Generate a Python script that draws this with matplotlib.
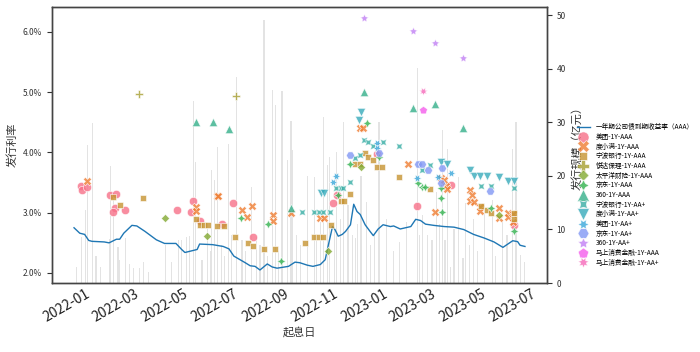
import matplotlib
matplotlib.use('Agg')
import matplotlib.pyplot as plt
import matplotlib.dates as mdates
from matplotlib.lines import Line2D
from matplotlib.ticker import FuncFormatter, MultipleLocator
import pandas as pd
import seaborn as sns

plt.rcParams['font.family'] = ['Noto Sans CJK SC', 'DejaVu Sans']
plt.rcParams['axes.unicode_minus'] = False

# ---------------- data ----------------
curve_label = '一年期公司债到期收益率（AAA）'
curve_dates = ['2021-12-09', '2021-12-16', '2021-12-22', '2021-12-27', '2021-12-31', '2022-01-15',
               '2022-01-21', '2022-01-30', '2022-02-03', '2022-02-08', '2022-02-18', '2022-02-24',
               '2022-03-06', '2022-03-14', '2022-03-20', '2022-03-30', '2022-04-13', '2022-04-20',
               '2022-04-24', '2022-05-09', '2022-05-12', '2022-05-28', '2022-06-10', '2022-06-17',
               '2022-06-23', '2022-07-07', '2022-07-13', '2022-07-19', '2022-07-25', '2022-08-03',
               '2022-08-09', '2022-08-15', '2022-08-29', '2022-09-06', '2022-09-12', '2022-09-21',
               '2022-09-28', '2022-10-07', '2022-10-13', '2022-10-17', '2022-10-22', '2022-10-25',
               '2022-10-29', '2022-11-03', '2022-11-07', '2022-11-13', '2022-11-17', '2022-11-21',
               '2022-11-25', '2022-12-01', '2022-12-07', '2022-12-11', '2022-12-17', '2022-12-23',
               '2023-01-01', '2023-01-05', '2023-01-13', '2023-01-26', '2023-02-01', '2023-02-07',
               '2023-02-13', '2023-02-23', '2023-03-08', '2023-03-20', '2023-04-01', '2023-04-13',
               '2023-04-26', '2023-05-08', '2023-05-19', '2023-05-25', '2023-05-31', '2023-06-06',
               '2023-06-09', '2023-06-15']
curve_values = [2.75, 2.66, 2.64, 2.54, 2.525, 2.515,
                2.50, 2.56, 2.56, 2.66, 2.79, 2.78,
                2.69, 2.61, 2.55, 2.49, 2.49, 2.39,
                2.34, 2.39, 2.48, 2.47, 2.44, 2.40,
                2.28, 2.17, 2.12, 2.11, 2.05, 2.15,
                2.10, 2.08, 2.11, 2.18, 2.17, 2.13,
                2.11, 2.14, 2.22, 2.47, 2.77, 2.72,
                2.61, 2.64, 2.69, 2.80, 3.14, 3.02,
                2.97, 2.80, 2.69, 2.62, 2.73, 2.80,
                2.77, 2.78, 2.73, 2.77, 2.89, 2.87,
                2.81, 2.79, 2.77, 2.76, 2.72, 2.64,
                2.58, 2.515, 2.425, 2.48, 2.535, 2.52,
                2.46, 2.44]

bar_dates = ['2021-12-18', '2021-12-23', '2021-12-25', '2022-01-01', '2022-01-21', '2022-01-23',
             '2022-01-26', '2022-02-01', '2022-02-03', '2022-02-10', '2022-02-20', '2022-02-27',
             '2022-03-04', '2022-03-31', '2022-04-16', '2022-04-20', '2022-04-26', '2022-04-30',
             '2022-05-05', '2022-05-07', '2022-05-15', '2022-05-22', '2022-05-27', '2022-05-30',
             '2022-06-03', '2022-06-08', '2022-06-16', '2022-06-26', '2022-07-03', '2022-07-15',
             '2022-07-21', '2022-07-30', '2022-08-09', '2022-08-13', '2022-08-21', '2022-08-28',
             '2022-09-01', '2022-09-03', '2022-09-21', '2022-09-30', '2022-10-07', '2022-10-11',
             '2022-10-16', '2022-10-18', '2022-10-27', '2022-11-04', '2022-11-10', '2022-11-19',
             '2022-11-26', '2022-12-03', '2022-12-18', '2022-12-27', '2023-01-12', '2023-01-21',
             '2023-02-03', '2023-02-09', '2023-02-15', '2023-02-27', '2023-03-06', '2023-03-12',
             '2023-03-16', '2023-03-20', '2023-03-26', '2023-03-31', '2023-04-03', '2023-04-13',
             '2023-04-26', '2023-05-06', '2023-05-18', '2023-05-31', '2023-06-04', '2023-06-10',
             '2021-12-12', '2022-01-05', '2022-01-10', '2022-02-15', '2022-03-10', '2022-04-08',
             '2022-05-25', '2022-06-12', '2022-06-20', '2022-07-07', '2022-07-25', '2022-08-03',
             '2022-08-17', '2022-09-08', '2022-09-13', '2022-10-02', '2022-10-24', '2022-11-01',
             '2022-11-15', '2022-11-22', '2022-12-08', '2022-12-13', '2023-01-05', '2023-02-06',
             '2023-02-21', '2023-03-02', '2023-03-09', '2023-04-08', '2023-04-18', '2023-05-10',
             '2023-05-24', '2023-06-14']
bar_sizes = [8.6, 13.6, 25.7, 29.8, 8.3, 21.8,
             16.0, 6.8, 4.3, 8.4, 2.8, 2.8,
             4.0, 7.1, 8.0, 8.0, 8.6, 8.7,
             34.0, 22.6, 4.3, 11.0, 21.0, 19.2,
             25.4, 7.0, 26.0, 38.5, 8.0, 18.0,
             8.6, 49.0, 36.0, 33.3, 35.8, 23.0,
             30.2, 24.8, 20.0, 19.8, 11.4, 31.0,
             22.0, 23.6, 24.5, 30.0, 14.5, 8.4,
             20.0, 15.2, 30.0, 12.0, 7.7, 11.4,
             40.2, 12.7, 9.0, 17.0, 28.5, 25.0,
             3.0, 10.0, 19.8, 4.7, 15.0, 12.0,
             14.5, 15.5, 12.0, 25.0, 30.0, 5.2,
             3.0, 5.0, 3.0, 3.5, 2.0, 4.0,
             6.0, 5.0, 9.0, 6.0, 7.0, 5.0,
             6.0, 9.0, 7.0, 8.0, 10.0, 12.0,
             9.0, 11.0, 7.0, 9.0, 6.0, 9.0,
             8.0, 11.0, 8.0, 7.0, 6.0, 5.0,
             9.0, 4.0]

series_names = ['美团-1Y-AAA', '度小满-1Y-AAA', '宁波银行-1Y-AAA', '悦达保理-1Y-AAA', '太平洋财险-1Y-AAA',
                '京东-1Y-AAA', '360-1Y-AAA', '宁波银行-1Y-AA+', '度小满-1Y-AA+', '美团-1Y-AA+',
                '京东-1Y-AA+', '360-1Y-AA+', '马上消费金融-1Y-AAA', '马上消费金融-1Y-AA+']

meituan_aaa_dates = ['2021-12-17', '2021-12-19', '2021-12-25', '2022-01-22', '2022-01-30', '2022-01-28',
                     '2022-01-26', '2022-02-09', '2022-04-14', '2022-05-04', '2022-05-02', '2022-05-12',
                     '2022-06-09', '2022-06-22', '2022-07-17', '2022-10-22', '2022-10-27', '2022-12-15',
                     '2023-02-03', '2023-03-16', '2023-06-02']
meituan_aaa_rates = [3.45, 3.38, 3.43, 3.30, 3.31, 3.08,
                     3.01, 3.05, 3.04, 3.20, 3.01, 2.86,
                     2.82, 3.155, 2.60, 3.155, 3.30, 3.975,
                     3.105, 3.465, 2.80]

duxiaoman_aaa_dates = ['2021-12-25', '2022-05-07', '2022-05-07', '2022-06-02', '2022-06-04', '2022-07-03',
                       '2022-07-09', '2022-07-15', '2022-08-10', '2022-08-10', '2022-09-01', '2022-10-07',
                       '2022-10-11', '2022-11-25', '2022-11-28', '2023-01-22', '2023-02-25', '2023-03-04',
                       '2023-03-08', '2023-03-10', '2023-03-12', '2023-04-08', '2023-04-11', '2023-04-08',
                       '2023-04-14', '2023-04-21', '2023-04-21', '2023-05-14', '2023-05-14', '2023-05-25',
                       '2023-05-25', '2023-05-31', '2023-05-31']
duxiaoman_aaa_rates = [3.52, 3.10, 3.02, 3.27, 3.27, 3.04,
                       2.93, 3.105, 2.955, 2.86, 3.00, 2.91,
                       2.91, 4.40, 4.40, 3.81, 3.01, 3.58,
                       3.55, 3.45, 3.40, 3.38, 3.30, 3.20,
                       3.18, 3.09, 3.02, 3.07, 2.91, 3.00,
                       2.93, 2.98, 2.85]

ningbo_aaa_dates = ['2022-01-26', '2022-02-03', '2022-03-04', '2022-05-07', '2022-05-12', '2022-05-18',
                    '2022-05-22', '2022-06-02', '2022-06-11', '2022-06-25', '2022-07-10', '2022-07-17',
                    '2022-07-30', '2022-08-13', '2022-09-18', '2022-09-29', '2022-10-05', '2022-10-10',
                    '2022-10-20', '2022-11-01', '2022-11-05', '2022-11-13', '2022-11-19', '2022-11-25',
                    '2022-12-01', '2022-12-05', '2022-12-11', '2022-12-16', '2022-12-22', '2023-01-12',
                    '2023-02-18', '2023-04-22', '2023-04-30', '2023-05-04', '2023-06-02', '2023-06-02']
ningbo_aaa_rates = [3.26, 3.12, 3.245, 2.90, 2.79, 2.79,
                    2.79, 2.785, 2.775, 2.60, 2.50, 2.45,
                    2.40, 2.39, 2.50, 2.60, 2.60, 2.60,
                    2.80, 3.19, 3.19, 3.31, 3.81, 3.81,
                    3.99, 3.92, 3.88, 3.75, 3.75, 3.60,
                    3.39, 3.105, 3.05, 3.00, 3.00, 2.90]

yueda_aaa_dates = ['2022-02-27', '2022-06-26']
yueda_aaa_rates = [4.96, 4.93]

taiping_aaa_dates = ['2022-03-30', '2022-05-21', '2022-10-16', '2022-11-26', '2023-05-14']
taiping_aaa_rates = [2.91, 2.61, 2.36, 3.75, 2.955]

jd_aaa_dates = ['2022-07-02', '2022-08-04', '2022-08-20', '2022-10-29', '2022-11-13', '2022-12-03',
                '2022-12-18', '2023-02-04', '2023-02-09', '2023-02-13', '2023-03-04', '2023-03-04',
                '2023-03-05', '2023-05-04', '2023-06-01']
jd_aaa_rates = [2.91, 2.81, 2.20, 3.30, 3.81, 4.49,
                3.92, 3.49, 3.42, 3.42, 3.41, 3.25,
                3.01, 3.07, 2.70]

q360_aaa_dates = ['2022-05-07', '2022-05-29', '2022-06-17', '2022-09-01', '2022-11-30', '2023-01-29',
                  '2023-02-25', '2023-03-31']
q360_aaa_rates = [4.50, 4.50, 4.39, 3.08, 5.00, 4.74, 4.80, 4.40]

ningbo_aap_dates = ['2022-09-15', '2022-09-29', '2022-10-05', '2022-10-10', '2022-10-19', '2022-10-26',
                    '2022-11-01', '2022-11-04', '2022-11-13', '2022-11-19', '2022-11-25', '2022-11-30',
                    '2022-12-04', '2022-12-11', '2022-12-23', '2023-01-12', '2023-02-09', '2023-02-18',
                    '2023-04-22', '2023-05-04', '2023-06-02']
ningbo_aap_rates = [3.01, 3.01, 3.01, 3.01, 3.01, 3.41,
                    3.41, 3.41, 3.51, 3.91, 3.95, 4.21,
                    4.18, 4.10, 4.17, 4.11, 3.71, 3.785,
                    3.45, 3.45, 3.41]

duxiaoman_aap_dates = ['2022-10-08', '2022-10-12', '2022-11-24', '2022-11-26', '2023-03-04', '2023-03-12',
                       '2023-04-08', '2023-04-14', '2023-04-21', '2023-04-30', '2023-05-14', '2023-05-25',
                       '2023-06-02']
duxiaoman_aap_rates = [3.32, 3.32, 4.53, 4.67, 3.84, 3.81,
                       3.71, 3.615, 3.615, 3.615, 3.59, 3.52,
                       3.52]

meituan_aap_dates = ['2022-10-22', '2022-10-26', '2022-12-15', '2022-12-16', '2023-02-03', '2023-02-28',
                     '2023-03-16']
meituan_aap_rates = [3.51, 3.615, 4.16, 4.08, 3.58, 3.60, 3.66]

jd_aap_dates = ['2022-11-13', '2022-12-18', '2023-02-04', '2023-02-09', '2023-02-16', '2023-03-05',
                '2023-03-04', '2023-05-03']
jd_aap_rates = [3.95, 3.99, 3.81, 3.81, 3.70, 3.74, 3.49, 3.355]

q360_aap_dates = ['2022-11-30', '2023-01-29', '2023-02-25', '2023-03-31']
q360_aap_rates = [6.22, 6.02, 5.81, 5.57]

mashang_aaa_dates = ['2023-02-10']
mashang_aaa_rates = [4.71]

mashang_aap_dates = ['2023-02-10']
mashang_aap_rates = [5.01]

series_dates = [meituan_aaa_dates, duxiaoman_aaa_dates, ningbo_aaa_dates, yueda_aaa_dates,
                taiping_aaa_dates, jd_aaa_dates, q360_aaa_dates, ningbo_aap_dates,
                duxiaoman_aap_dates, meituan_aap_dates, jd_aap_dates, q360_aap_dates,
                mashang_aaa_dates, mashang_aap_dates]
series_rates = [meituan_aaa_rates, duxiaoman_aaa_rates, ningbo_aaa_rates, yueda_aaa_rates,
                taiping_aaa_rates, jd_aaa_rates, q360_aaa_rates, ningbo_aap_rates,
                duxiaoman_aap_rates, meituan_aap_rates, jd_aap_rates, q360_aap_rates,
                mashang_aaa_rates, mashang_aap_rates]

# ---------------- styling ----------------
markers = ['o', 'X', (4, 0, 45), 'P', (4, 0, 0), (4, 1, 0), '^', (4, 1, 45), 'v',
           (6, 1, 30), (6, 0, 30), (5, 1, 0), (5, 0, 0), (7, 1, 360 / 7 / 2)]
colors = sns.color_palette('husl', len(series_names))

fig = plt.figure(figsize=(7.0, 3.52), dpi=100)
ax1 = fig.add_axes([0.0743, 0.196, 0.7071, 0.784])
ax2 = ax1.twinx()

ax2.bar(pd.to_datetime(bar_dates), bar_sizes, width=1.4, color='#c8c8c8', alpha=0.5, zorder=1)

ax1.set_zorder(ax2.get_zorder() + 1)
ax1.patch.set_visible(False)

line_handle, = ax1.plot(pd.to_datetime(curve_dates), curve_values, color='#1f77b4', lw=1.0,
                        label=curve_label, zorder=2)

handles = [line_handle]
for name, d, r, m, c in zip(series_names, series_dates, series_rates, markers, colors):
    ax1.scatter(pd.to_datetime(d), r, marker=m, s=36, color=c, alpha=0.8,
                edgecolors='white', linewidths=0.5, zorder=3)
    handles.append(Line2D([], [], linestyle='none', marker=m, markersize=8, color=c,
                          markeredgecolor='white', markeredgewidth=0.5, alpha=0.8, label=name))

ax1.set_xlim(pd.Timestamp('2021-11-12'), pd.Timestamp('2023-07-12'))
ax1.set_ylim(1.834, 6.41)
ax2.set_ylim(0, 51.5)

ax1.yaxis.set_major_locator(MultipleLocator(1.0))
ax1.yaxis.set_major_formatter(FuncFormatter(lambda v, p: f'{v:.1f}%'))
ax2.yaxis.set_major_locator(MultipleLocator(10))

ax1.xaxis.set_major_locator(mdates.MonthLocator(bymonth=[1, 3, 5, 7, 9, 11]))
ax1.xaxis.set_major_formatter(mdates.DateFormatter('%Y-%m'))
for lab in ax1.get_xticklabels():
    lab.set_rotation(30)
    lab.set_ha('right')
    lab.set_fontsize(10)

ax1.tick_params(axis='y', labelsize=6, length=3.5, width=0.8, colors='#333333', labelcolor='#333333')
ax2.tick_params(axis='y', labelsize=6, length=3.5, width=0.8, colors='#333333', labelcolor='#333333')
ax1.tick_params(axis='x', length=0, pad=3, labelcolor='#222222')

for ax in (ax1, ax2):
    for sp in ax.spines.values():
        sp.set_color('#444444')
        sp.set_linewidth(1.0)

ax1.set_xlabel('起息日', fontsize=8, color='#333333', labelpad=1)
ax1.set_ylabel('发行利率', fontsize=8, color='#333333')
ax2.set_ylabel('发行规模（亿元）', fontsize=8, color='#333333')

ax1.legend(handles=handles, loc='upper left', bbox_to_anchor=(1.048, 0.60), frameon=False,
           fontsize=4.8, labelspacing=0.25, handlelength=2.0, handletextpad=0.8,
           borderaxespad=0.5)

fig.savefig('out.png', dpi=100)
